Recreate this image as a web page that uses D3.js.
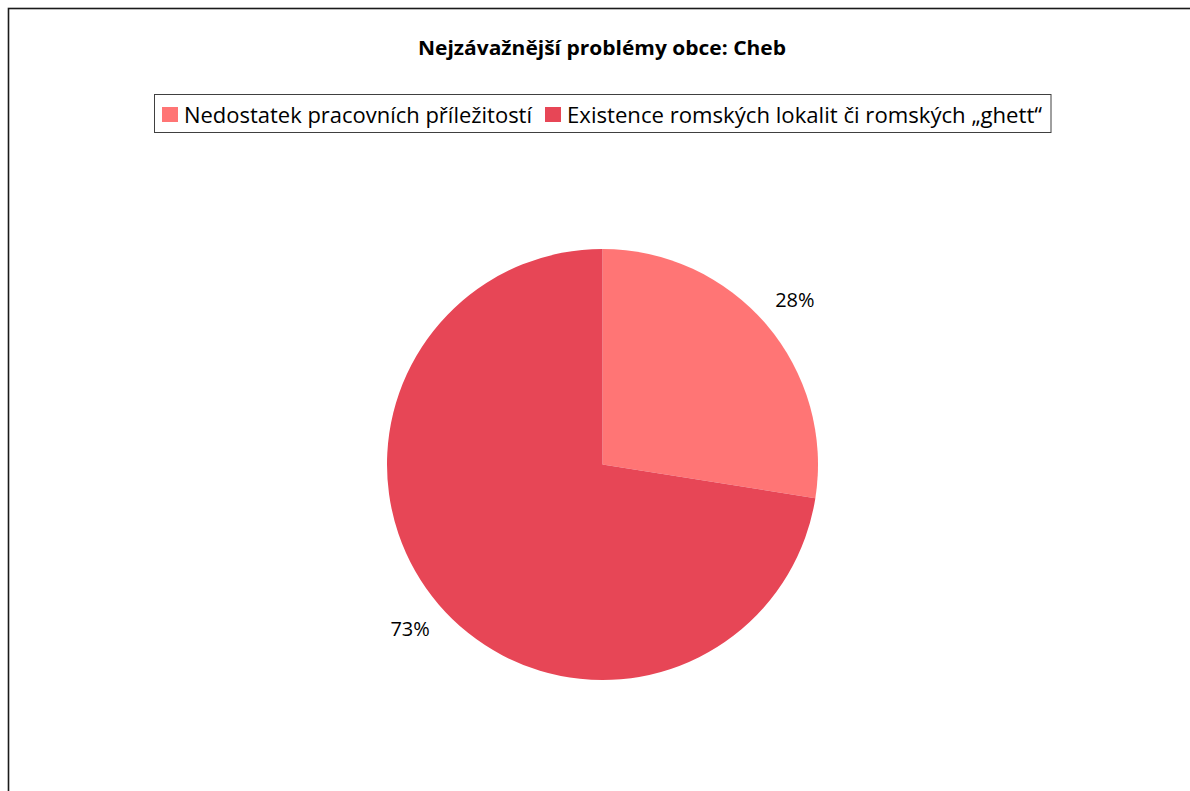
<!DOCTYPE html>
<html><head><meta charset="utf-8">
<script src="https://cdn.jsdelivr.net/npm/d3@7"></script>
<style>html,body{margin:0;padding:0;background:#fff;overflow:hidden}</style>
</head><body>
<svg id="c" width="1190" height="791"></svg>
<script>
const title = "Nejzávažnější problémy obce: Cheb";
const categories = ["Nedostatek pracovních příležitostí", "Existence romských lokalit či romských „ghett“"];
const values = [27.5, 72.5];
const labels = ["28%", "73%"];
const colors = ["#FF7575", "#E74656"];

const svg = d3.select("#c");
const font = "'Open Sans', 'Noto Sans', sans-serif";

// outer frame
svg.append("rect").attr("x", 8.5).attr("y", 8.5).attr("width", 1300).attr("height", 1000)
  .attr("fill", "#fff").attr("stroke", "#1a1a1a").attr("stroke-width", 1.6);

// title
svg.append("text").attr("x", 602).attr("y", 55).attr("text-anchor", "middle")
  .attr("font-family", font).attr("font-weight", "bold").attr("font-size", 20)
  .attr("textLength", 368).attr("lengthAdjust", "spacingAndGlyphs")
  .attr("fill", "#000").text(title);

// legend
const legendWidths = [348, 475];
const lg = svg.append("g");
const box = lg.append("rect").attr("x", 154.5).attr("y", 94.5).attr("height", 38)
  .attr("fill", "#fff").attr("stroke", "#404040").attr("stroke-width", 1);
let x = 162;
categories.forEach((c, i) => {
  lg.append("rect").attr("x", x).attr("y", 107).attr("width", 16).attr("height", 15).attr("fill", colors[i]);
  lg.append("text").attr("x", x + 22).attr("y", 123).attr("font-family", font).attr("font-size", 21.5)
    .attr("textLength", legendWidths[i]).attr("lengthAdjust", "spacingAndGlyphs")
    .attr("fill", "#000").text(c);
  x = x + 22 + legendWidths[i] + 13;
});
box.attr("width", x - 13 + 9 - 154.5);

// pie
const cx = 602.5, cy = 464.5, r = 215.5;
const pie = d3.pie().sort(null).value(d => d).startAngle(0).endAngle(2 * Math.PI);
const arcs = pie(values);
const arc = d3.arc().innerRadius(0).outerRadius(r);
const labelArc = d3.arc().innerRadius(253).outerRadius(253);
const g = svg.append("g").attr("transform", `translate(${cx},${cy})`);
g.selectAll("path").data(arcs).join("path")
  .attr("d", arc).attr("fill", (d, i) => colors[i]);
g.selectAll("text").data(arcs).join("text")
  .attr("transform", d => `translate(${labelArc.centroid(d)})`)
  .attr("text-anchor", "middle").attr("dy", "0.35em")
  .attr("font-family", font).attr("font-size", 20).attr("fill", "#000")
  .text((d, i) => labels[i]);
</script>
</body></html>
